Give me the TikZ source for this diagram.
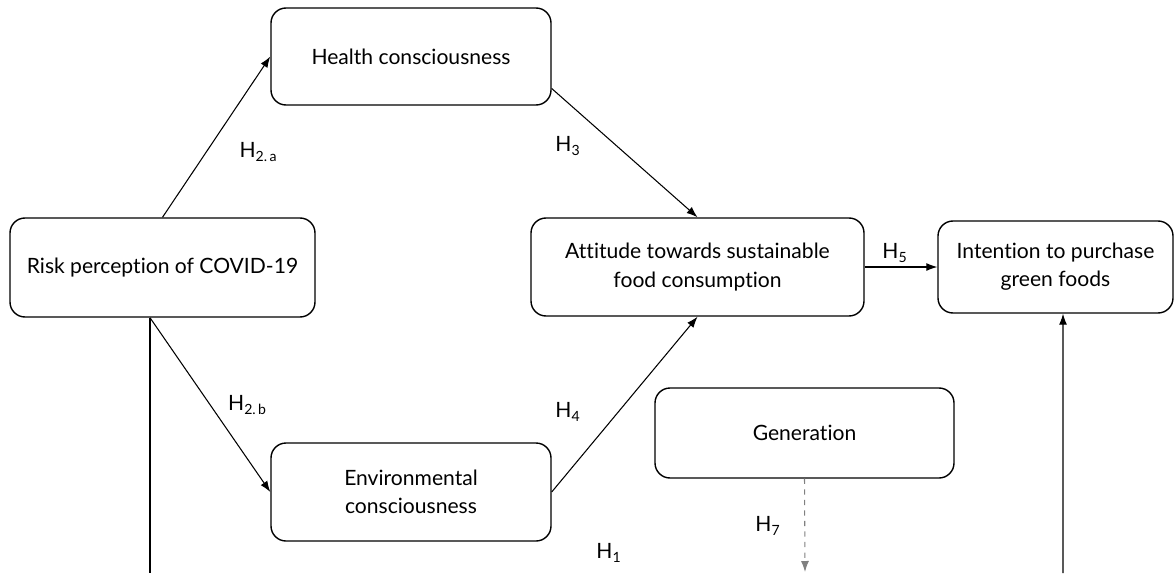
\documentclass[tikz,border=0pt]{standalone}
\usepackage{fontspec}
\setmainfont[Ligatures={NoCommon}]{Lato}
\usetikzlibrary{arrows.meta}

\tikzset{
  factor/.style={draw, thick, rounded corners=0.3cm, align=center, font=\fontsize{12}{16}\selectfont},
  path/.style={semithick, -{Latex[length=2.2mm,width=1.6mm]}},
  hyp/.style={font=\fontsize{12}{14}\selectfont}
}

\begin{document}
\begin{tikzpicture}
% Canvas size
\useasboundingbox (0,0) rectangle (23.5,-11.46);

% Draw the boxes
\node[factor, minimum width=6.1cm, minimum height=1.98cm] (risk) at (3.25, -5.35) {Risk perception of COVID-19};
\node[factor, minimum width=5.6cm, minimum height=1.94cm] (health) at (8.22, -1.13) {Health consciousness};
\node[factor, minimum width=5.6cm, minimum height=1.96cm] (env) at (8.22, -9.84) {Environmental\\consciousness};
\node[factor, minimum width=6.66cm, minimum height=1.96cm] (attitude) at (13.95, -5.34) {Attitude towards sustainable\\food consumption};
\node[factor, minimum width=4.7cm, minimum height=1.84cm] (intention) at (21.11, -5.34) {Intention to purchase\\green foods};
\node[factor, minimum width=5.98cm, minimum height=1.8cm] (generation) at (16.09, -8.66) {Generation};

% Free ends at the bottom edge
\coordinate (riskend) at (3.0, -11.46);
\coordinate (genend) at (16.1, -11.44);
\coordinate (intend) at (21.26, -11.46);

% Draw the paths
\draw[path] (risk.north) -- (health.west);
\draw[path] ([xshift=-0.25cm]risk.south) -- (env.west);
\draw[path] ([yshift=-0.64cm]health.east) -- (attitude.north);
\draw[path] (env.east) -- (attitude.south);
\draw[path] (attitude.east) -- (intention.west);
\draw[semithick] ([xshift=-0.25cm]risk.south) -- (riskend);
\draw[path] (intend) -- ([xshift=0.15cm]intention.south);
\draw[path, dashed, gray] (generation.south) -- (genend);

% Hypothesis labels
\node[hyp] (h2a) at (5.17, -3.04) {H\textsubscript{2.\,a}};
\node[hyp] (h2b) at (4.95, -8.1) {H\textsubscript{2.\,b}};
\node[hyp] (h3) at (11.36, -2.92) {H\textsubscript{3}};
\node[hyp] (h4) at (11.36, -8.24) {H\textsubscript{4}};
\node[hyp] (h5) at (17.9, -5.06) {H\textsubscript{5}};
\node[hyp] (h7) at (15.36, -10.52) {H\textsubscript{7}};
\node[hyp] (h1) at (12.18, -11.06) {H\textsubscript{1}};
\end{tikzpicture}
\end{document}
